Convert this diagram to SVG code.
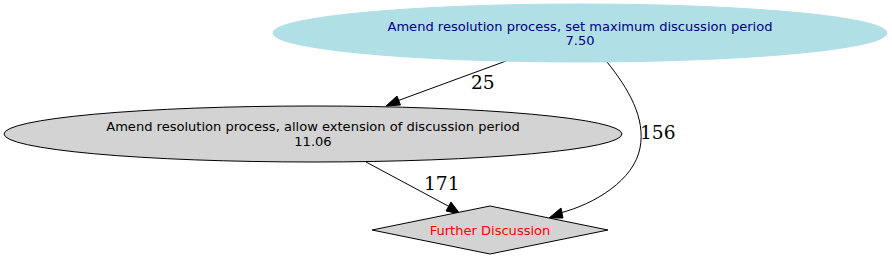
<svg xmlns="http://www.w3.org/2000/svg" width="892" height="260" viewBox="0 0 892 260">
<style>
.node text{font-family:"DejaVu Sans",sans-serif;font-size:13.05px;text-anchor:middle}
.edge path{fill:none;stroke:#000;stroke-width:1}
.edge polygon{fill:#000;stroke:#000}
.lbl{font-family:"DejaVu Serif",serif;font-size:18.67px}
</style>
<rect width="892" height="260" fill="#fff"/>
<g id="edges" class="edge">
<path d="M506,61 L397,101"/>
<polygon points="400.5,105 386,106 397,96"/>
<text class="lbl" x="471" y="89">25</text>
<path d="M607,62 C628,88 646,118 640,148 C634,180 595,204 560,213"/>
<polygon points="563,218 549,218 561,208"/>
<text class="lbl" x="640" y="139">156</text>
<path d="M366,162 L450,207"/>
<polygon points="446,211 460,214 451,202"/>
<text class="lbl" x="424" y="190">171</text>
</g>
<g id="n1" class="node">
<ellipse cx="580" cy="33" rx="307" ry="29" fill="#b0dfe5" stroke="#b0dfe5"/>
<text x="580" y="30.5" fill="#000080">Amend resolution process, set maximum discussion period</text>
<text x="580" y="45" fill="#000080">7.50</text>
</g>
<g id="n2" class="node">
<ellipse cx="313" cy="134" rx="309" ry="28" fill="#d3d3d3" stroke="#000"/>
<text x="313" y="131" fill="#000">Amend resolution process, allow extension of discussion period</text>
<text x="313" y="146" fill="#000">11.06</text>
</g>
<g id="n3" class="node">
<polygon points="490,206 608,230 490,254 372,230" fill="#d3d3d3" stroke="#000"/>
<text x="490" y="234.5" fill="#ff0000">Further Discussion</text>
</g>
</svg>
